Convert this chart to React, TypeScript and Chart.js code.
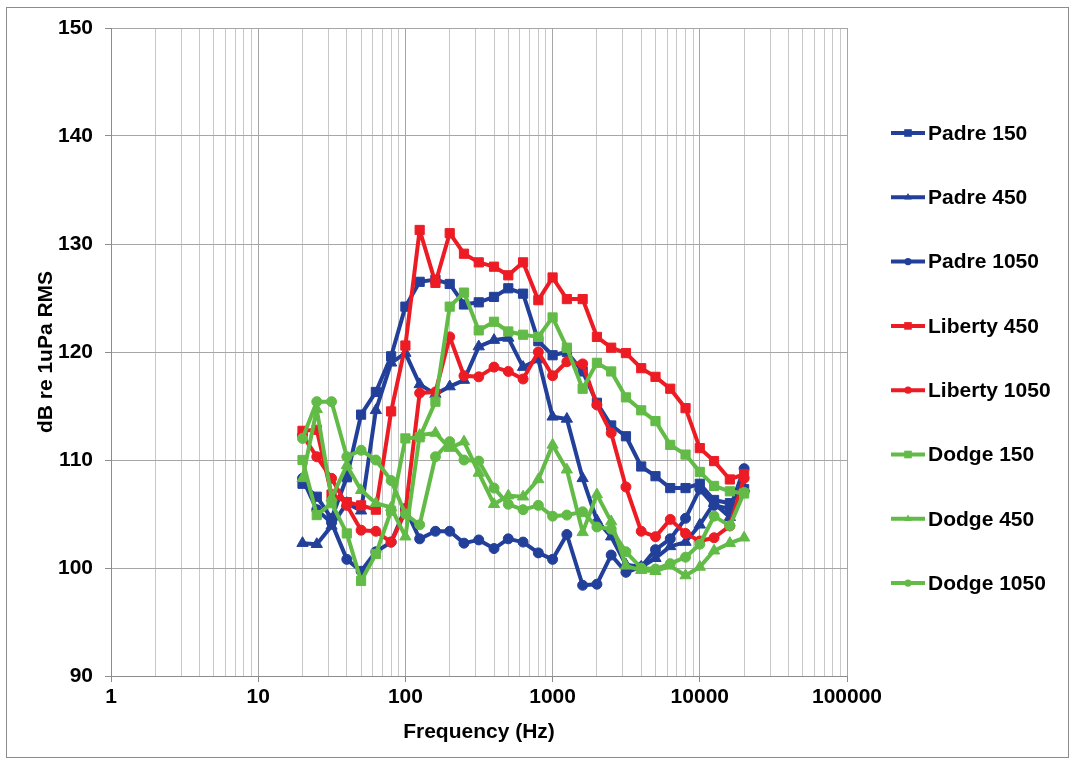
import React, { useEffect, useRef } from 'react';
import { Chart, registerables } from 'chart.js';

Chart.register(...registerables);

// ---------- data ----------
const FREQS = [20, 25, 31.5, 40, 50, 63, 80, 100, 125, 160, 200, 250, 315, 400, 500, 630, 800, 1000, 1250, 1600, 2000, 2500, 3150, 4000, 5000, 6300, 8000, 10000, 12500, 16000, 20000];

const PADRE_150 = [107.8, 106.6, 104.6, 108.4, 114.2, 116.3, 119.6, 124.2, 126.5, 126.7, 126.3, 124.4, 124.6, 125.1, 125.9, 125.4, 121.0, 119.7, 120.0, 118.2, 115.3, 113.2, 112.2, 109.4, 108.5, 107.4, 107.4, 107.8, 106.3, 106.0, 107.3];
const PADRE_450 = [102.3, 102.2, 103.9, 106.0, 105.3, 114.6, 119.0, 119.9, 117.0, 116.1, 116.8, 117.4, 120.5, 121.1, 121.3, 118.6, 119.3, 114.0, 113.8, 108.3, 104.4, 102.9, 100.3, 100.1, 100.9, 102.0, 102.4, 104.0, 106.0, 104.7, 107.4];
const PADRE_1050 = [108.3, 105.4, 104.2, 100.8, 99.7, 101.5, 102.4, 105.5, 102.7, 103.4, 103.4, 102.3, 102.6, 101.8, 102.7, 102.4, 101.4, 100.8, 103.1, 98.4, 98.5, 101.2, 99.6, 100.1, 101.7, 102.7, 104.6, 107.3, 105.8, 105.5, 109.2];
const LIBERTY_450 = [112.7, 112.8, 106.8, 106.1, 105.8, 105.4, 114.5, 120.6, 131.3, 126.4, 131.0, 129.1, 128.3, 127.9, 127.1, 128.3, 124.8, 126.9, 124.9, 124.9, 121.4, 120.4, 119.9, 118.5, 117.7, 116.6, 114.8, 111.1, 109.9, 108.2, 108.7];
const LIBERTY_1050 = [112.3, 110.3, 108.3, 105.8, 103.5, 103.4, 102.4, 105.2, 116.2, 116.3, 121.4, 117.8, 117.7, 118.6, 118.2, 117.5, 120.0, 117.8, 119.1, 118.9, 115.1, 112.5, 107.5, 103.4, 102.9, 104.5, 103.2, 102.5, 102.8, 103.9, 108.3];
const DODGE_150 = [110.0, 104.9, 106.0, 103.2, 98.8, 101.3, 105.3, 112.0, 112.1, 115.4, 124.2, 125.5, 122.0, 122.8, 121.9, 121.6, 121.4, 123.2, 120.4, 116.6, 119.0, 118.2, 115.8, 114.6, 113.6, 111.4, 110.5, 108.9, 107.6, 107.1, 106.9];
const DODGE_450 = [108.3, 114.7, 106.5, 109.5, 107.2, 106.0, 105.6, 102.9, 112.3, 112.5, 111.1, 111.7, 108.8, 105.9, 106.7, 106.6, 108.2, 111.4, 109.1, 103.3, 106.8, 104.3, 100.2, 99.8, 99.7, 100.2, 99.3, 100.1, 101.6, 102.3, 102.8];
const DODGE_1050 = [112.0, 115.4, 115.4, 110.3, 110.9, 110.0, 108.1, 105.0, 104.0, 110.3, 111.7, 110.0, 109.9, 107.4, 105.9, 105.4, 105.8, 104.8, 104.9, 105.2, 103.8, 103.6, 101.5, 100.0, 99.9, 100.4, 101.0, 102.2, 104.8, 103.9, 107.0];

const SERIES_NAMES = ['Padre 150', 'Padre 450', 'Padre 1050', 'Liberty 450', 'Liberty 1050', 'Dodge 150', 'Dodge 450', 'Dodge 1050'];
const SERIES_VALUES = [PADRE_150, PADRE_450, PADRE_1050, LIBERTY_450, LIBERTY_1050, DODGE_150, DODGE_450, DODGE_1050];

const X_DECADES = [1, 10, 100, 1000, 10000, 100000];
const X_MINOR_STEPS = [1, 2, 3, 4, 5, 6, 7, 8, 9];
const Y_MIN = 90;
const Y_MAX = 150;
const Y_STEP = 10;

// ---------- styles ----------
const BLUE = '#22409A';
const RED = '#ED1C24';
const GREEN = '#62BB46';
const SERIES_COLORS = [BLUE, BLUE, BLUE, RED, RED, GREEN, GREEN, GREEN];
const SERIES_MARKERS = ['rect', 'triangle', 'circle', 'rect', 'circle', 'rect', 'triangle', 'circle'];
const MARKER_RADIUS: Record<string, number> = { rect: 6.5, triangle: 6.5, circle: 5 };

const FONT_FAMILY = '"Liberation Sans", Arial, "DejaVu Sans", sans-serif';
const W = 1076;
const H = 760;

const isDecade = (v: number) => {
  const l = Math.log10(v);
  return Math.abs(l - Math.round(l)) < 1e-9;
};

const X_GRID_VALUES: number[] = [];
X_DECADES.forEach((d, i) => {
  if (i === X_DECADES.length - 1) {
    X_GRID_VALUES.push(d);
  } else {
    X_MINOR_STEPS.forEach((m) => X_GRID_VALUES.push(d * m));
  }
});

function drawMarker(ctx: CanvasRenderingContext2D, style: string, x: number, y: number, r: number) {
  ctx.beginPath();
  if (style === 'rect') {
    ctx.rect(x - r, y - r, 2 * r, 2 * r);
  } else if (style === 'triangle') {
    ctx.moveTo(x, y - r * 1.15);
    ctx.lineTo(x + r, y + r * 0.6);
    ctx.lineTo(x - r, y + r * 0.6);
    ctx.closePath();
  } else {
    ctx.arc(x, y, r, 0, Math.PI * 2);
  }
  ctx.fill();
}

const framePlugin = {
  id: 'frame',
  beforeDraw(chart: any) {
    const ctx = chart.ctx;
    ctx.save();
    ctx.fillStyle = '#FFFFFF';
    ctx.fillRect(0, 0, chart.width, chart.height);
    ctx.strokeStyle = '#8C8C8C';
    ctx.lineWidth = 1;
    ctx.strokeRect(6.5, 7.5, chart.width - 14, chart.height - 10);
    ctx.restore();
  },
};

const legendPlugin = {
  id: 'sideLegend',
  afterDraw(chart: any) {
    const ctx = chart.ctx;
    const area = chart.chartArea;
    const x0 = area.right + 44;
    const y0 = area.top + 105;
    const step = 64.3;
    ctx.save();
    SERIES_NAMES.forEach((name, i) => {
      const y = y0 + i * step;
      ctx.strokeStyle = SERIES_COLORS[i];
      ctx.fillStyle = SERIES_COLORS[i];
      ctx.lineWidth = 4;
      ctx.lineCap = 'butt';
      ctx.beginPath();
      ctx.moveTo(x0, y);
      ctx.lineTo(x0 + 34, y);
      ctx.stroke();
      drawMarker(ctx, SERIES_MARKERS[i], x0 + 17, y, SERIES_MARKERS[i] === 'circle' ? 3.6 : 3.8);
      ctx.fillStyle = '#000000';
      ctx.font = `bold 21px ${FONT_FAMILY}`;
      ctx.textAlign = 'left';
      ctx.textBaseline = 'middle';
      ctx.fillText(name, x0 + 37, y + 1);
    });
    ctx.restore();
  },
};

export default function App() {
  const canvasRef = useRef<HTMLCanvasElement | null>(null);

  useEffect(() => {
    if (!canvasRef.current) return;
    const tickFont = { family: FONT_FAMILY, size: 21, weight: 'bold' as const };

    const datasets = SERIES_NAMES.map((name, i) => ({
      label: name,
      data: FREQS.map((f, j) => ({ x: f, y: SERIES_VALUES[i][j] })),
      borderColor: SERIES_COLORS[i],
      backgroundColor: SERIES_COLORS[i],
      pointBackgroundColor: SERIES_COLORS[i],
      pointBorderColor: SERIES_COLORS[i],
      pointStyle: SERIES_MARKERS[i],
      pointRadius: MARKER_RADIUS[SERIES_MARKERS[i]],
      pointHoverRadius: MARKER_RADIUS[SERIES_MARKERS[i]],
      pointBorderWidth: 1,
      borderWidth: 4,
      borderJoinStyle: 'round' as const,
      borderCapStyle: 'round' as const,
      tension: 0,
      fill: false,
      order: SERIES_NAMES.length - i,
    }));

    const chart = new Chart(canvasRef.current, {
      type: 'line',
      data: { datasets },
      options: {
        animation: false,
        responsive: false,
        devicePixelRatio: 1,
        events: [],
        layout: { padding: { left: 0, top: 28, right: 229, bottom: 0 } },
        plugins: {
          legend: { display: false },
          tooltip: { enabled: false },
        },
        scales: {
          x: {
            type: 'logarithmic',
            min: X_DECADES[0],
            max: X_DECADES[X_DECADES.length - 1],
            afterBuildTicks: (axis: any) => {
              axis.ticks = X_GRID_VALUES.map((v) => ({ value: v, major: isDecade(v) }));
            },
            afterFit: (scale: any) => {
              scale.height = 84;
            },
            ticks: {
              autoSkip: false,
              maxRotation: 0,
              minRotation: 0,
              padding: 3,
              color: '#000000',
              font: tickFont,
              callback: (v: any) => (isDecade(Number(v)) ? String(Number(v)) : ''),
            },
            grid: {
              color: (c: any) => (c.tick && isDecade(c.tick.value) ? '#A6A6A6' : '#C8C8C8'),
              tickColor: (c: any) => (c.tick && isDecade(c.tick.value) ? '#8C8C8C' : 'rgba(0,0,0,0)'),
              tickLength: 6,
              lineWidth: 1,
            },
            border: { color: '#8C8C8C', width: 1 },
            title: {
              display: true,
              text: 'Frequency (Hz)',
              color: '#000000',
              font: tickFont,
              padding: { top: 0, bottom: 15 },
            },
          },
          y: {
            type: 'linear',
            min: Y_MIN,
            max: Y_MAX,
            afterFit: (scale: any) => {
              scale.width = 111;
            },
            ticks: {
              stepSize: Y_STEP,
              padding: 12,
              color: '#000000',
              font: tickFont,
            },
            grid: {
              color: '#A6A6A6',
              tickColor: '#8C8C8C',
              tickLength: 6,
              lineWidth: 1,
            },
            border: { color: '#8C8C8C', width: 1 },
            title: {
              display: true,
              text: 'dB re 1uPa RMS',
              color: '#000000',
              font: tickFont,
              padding: { top: 34, bottom: 0 },
            },
          },
        },
      } as any,
      plugins: [framePlugin, legendPlugin],
    });

    return () => chart.destroy();
  }, []);

  return (
    <div style={{ position: 'absolute', left: 0, top: 0, width: W, height: H, background: '#FFFFFF' }}>
      <canvas ref={canvasRef} width={W} height={H} style={{ display: 'block', width: W, height: H }} />
    </div>
  );
}
